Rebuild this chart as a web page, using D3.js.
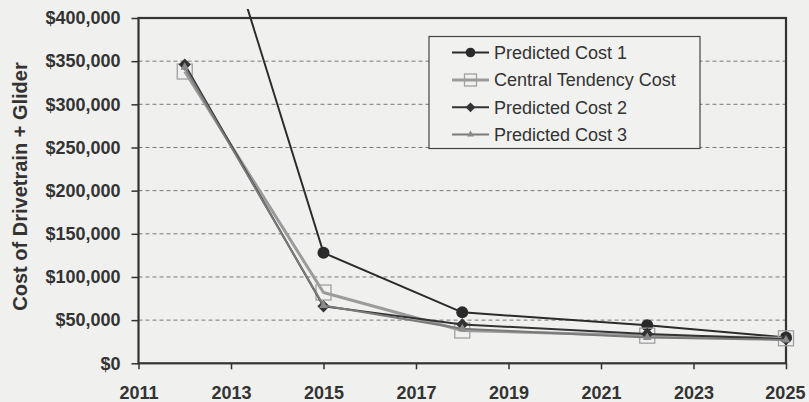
<!DOCTYPE html>
<html>
<head>
<meta charset="utf-8">
<script src="https://cdn.jsdelivr.net/npm/d3@7"></script>
<style>
  html, body { margin: 0; padding: 0; background: #f0f0ef; }
  svg { display: block; }
  text { font-family: "Liberation Sans", Arial, sans-serif; }
</style>
</head>
<body>
<svg id="chart" width="809" height="402"></svg>
<script>
// ---- data ----
const years = [2012, 2015, 2018, 2022, 2025];
const predictedCost1 = [645000, 128000, 59000, 44000, 30000];
const centralTendencyCost = [338000, 82000, 38000, 32000, 29000];
const predictedCost2 = [346000, 66000, 45000, 34000, 28000];
const predictedCost3 = [343000, 67000, 40000, 30000, 27000];
const seriesNames = ["Predicted Cost 1", "Central Tendency Cost", "Predicted Cost 2", "Predicted Cost 3"];
const xTicks = [2011, 2013, 2015, 2017, 2019, 2021, 2023, 2025];
const yTicks = [0, 50000, 100000, 150000, 200000, 250000, 300000, 350000, 400000];
const yTitle = "Cost of Drivetrain + Glider";

// ---- layout ----
const svg = d3.select("#chart");
const L = 138.5, R = 786, T = 18, B = 363.3;
const x = d3.scaleLinear().domain([2011, 2025]).range([L, R]);
const y = d3.scaleLinear().domain([0, 400000]).range([B, T]);

svg.append("rect").attr("width", 809).attr("height", 402).attr("fill", "#f0f0ef");

// gridlines
svg.append("g").selectAll("line").data(yTicks.filter(v => v > 0)).join("line")
  .attr("x1", L).attr("x2", R)
  .attr("y1", d => y(d)).attr("y2", d => y(d))
  .attr("stroke", "#7a7a7a").attr("stroke-width", 1).attr("stroke-dasharray", "4,3");

// y axis
const yAxis = d3.axisLeft(y).tickValues(yTicks)
  .tickFormat(d => "$" + d3.format(",")(d)).tickSize(7).tickPadding(11);
const gy = svg.append("g").attr("transform", `translate(${L},0)`).call(yAxis);
gy.select(".domain").remove();
gy.selectAll(".tick line").attr("stroke", "#333").attr("stroke-width", 1.5);
gy.selectAll(".tick text").attr("font-size", 18).attr("font-weight", "bold")
  .attr("fill", "#333").attr("font-family", "Liberation Sans, Arial, sans-serif");

// x axis
const xAxis = d3.axisBottom(x).tickValues(xTicks).tickFormat(d3.format("d")).tickSize(6).tickPadding(17);
const gx = svg.append("g").attr("transform", `translate(0,${B})`).call(xAxis);
gx.select(".domain").remove();
gx.selectAll(".tick line").attr("stroke", "#333").attr("stroke-width", 1.5);
gx.selectAll(".tick text").attr("font-size", 18).attr("font-weight", "bold")
  .attr("fill", "#333").attr("font-family", "Liberation Sans, Arial, sans-serif");
// keep the last label inside the picture
gx.selectAll(".tick text").filter(d => d === 2025).attr("text-anchor", "end").attr("dx", "1.05em");

// plot border
svg.append("rect").attr("x", L).attr("y", T).attr("width", R - L).attr("height", B - T)
  .attr("fill", "none").attr("stroke", "#333").attr("stroke-width", 2.2);

// y title
svg.append("text")
  .attr("transform", `translate(27,${(60 + 313) / 2}) rotate(-90)`)
  .attr("text-anchor", "middle")
  .attr("font-size", 20).attr("font-weight", "bold").attr("fill", "#333")
  .text(yTitle);

// clip
svg.append("clipPath").attr("id", "clip").append("rect")
  .attr("x", L - 60).attr("y", 9).attr("width", R - L + 80).attr("height", B - 9 + 20);

const styles = [
  { data: predictedCost1, stroke: "#2b2b2b", width: 2, marker: "circle" },
  { data: centralTendencyCost, stroke: "#9b9b9b", width: 3, marker: "square" },
  { data: predictedCost2, stroke: "#333", width: 2, marker: "diamond" },
  { data: predictedCost3, stroke: "#7a7a7a", width: 2, marker: "triangle" }
];

const line = d3.line().x(d => x(d[0])).y(d => y(d[1]));
const plot = svg.append("g").attr("clip-path", "url(#clip)");

function drawMarker(g, kind, cx, cy, s) {
  if (kind === "circle") {
    g.append("circle").attr("cx", cx).attr("cy", cy).attr("r", 6 * s).attr("fill", "#2a2a2a");
  } else if (kind === "square") {
    const h = 7.5 * s;
    g.append("rect").attr("x", cx - h).attr("y", cy - h).attr("width", 2 * h).attr("height", 2 * h)
      .attr("fill", "none").attr("stroke", "#a0a0a0").attr("stroke-width", 1.3);
  } else if (kind === "diamond") {
    g.append("path").attr("d", d3.symbol().type(d3.symbolDiamond2).size(95 * s * s)())
      .attr("transform", `translate(${cx},${cy})`).attr("fill", "#333");
  } else {
    g.append("path").attr("d", d3.symbol().type(d3.symbolTriangle).size(32 * s * s)())
      .attr("transform", `translate(${cx},${cy})`).attr("fill", "#8a8a8a");
  }
}

styles.forEach(st => {
  const pts = years.map((yr, i) => [yr, st.data[i]]);
  plot.append("path").datum(pts).attr("d", line)
    .attr("fill", "none").attr("stroke", st.stroke).attr("stroke-width", st.width)
    .attr("stroke-linejoin", "round");
  const mg = plot.append("g");
  pts.forEach(p => {
    if (y(p[1]) >= T) drawMarker(mg, st.marker, x(p[0]), y(p[1]), 1);
  });
});

// legend
const lg = svg.append("g");
lg.append("rect").attr("x", 429).attr("y", 36.5).attr("width", 271).attr("height", 112)
  .attr("fill", "#f1f1f0").attr("stroke", "#444").attr("stroke-width", 1.2);
const rowY = [52.5, 80, 107.3, 134.5];
styles.forEach((st, i) => {
  lg.append("line").attr("x1", 452).attr("x2", 489).attr("y1", rowY[i]).attr("y2", rowY[i])
    .attr("stroke", st.stroke).attr("stroke-width", st.width);
  drawMarker(lg, st.marker, 470.5, rowY[i], 0.8);
  lg.append("text").attr("x", 494).attr("y", rowY[i]).attr("dy", "0.35em")
    .attr("font-size", 18).attr("fill", "#333").text(seriesNames[i]);
});
</script>
</body>
</html>
